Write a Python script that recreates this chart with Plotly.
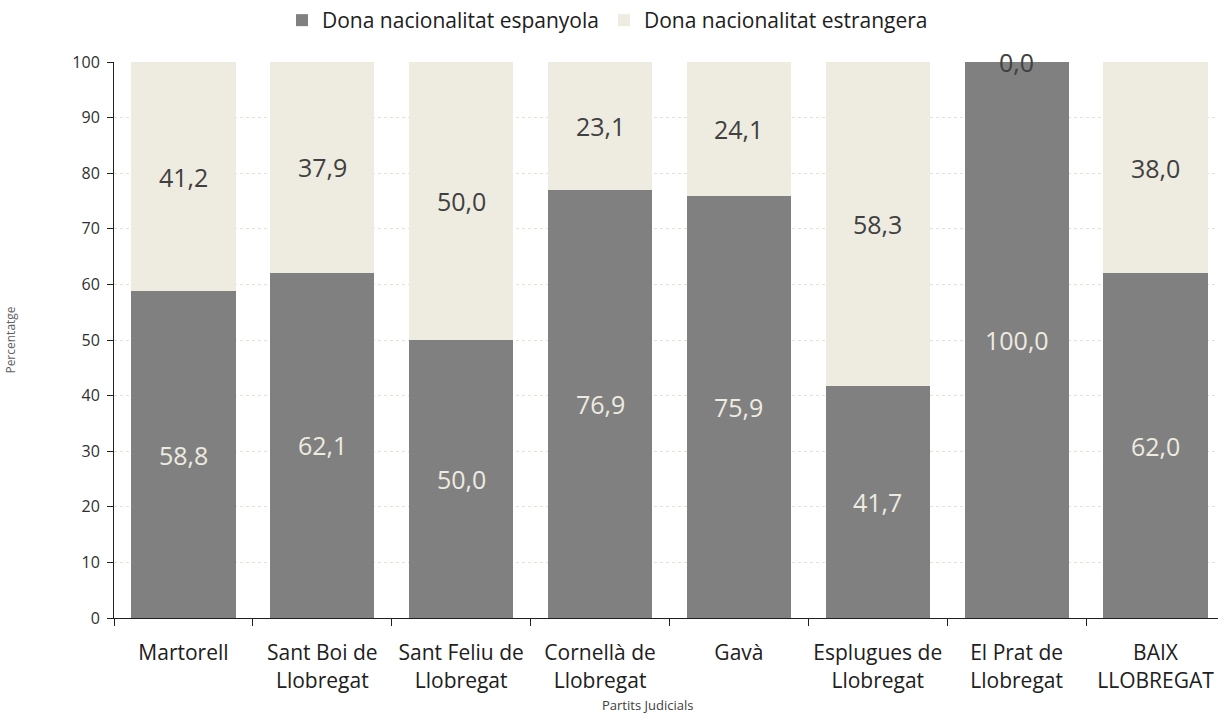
import plotly.graph_objects as go

partits = ["Martorell", "Sant Boi de<br>Llobregat", "Sant Feliu de<br>Llobregat", "Cornellà de<br>Llobregat",
           "Gavà", "Esplugues de<br>Llobregat", "El Prat de<br>Llobregat", "BAIX<br>LLOBREGAT"]
espanyola = [58.8, 62.1, 50.0, 76.9, 75.9, 41.7, 100.0, 62.0]
estrangera = [41.2, 37.9, 50.0, 23.1, 24.1, 58.3, 0.0, 38.0]

dark = "#808080"
light = "#EEEBE0"
font = "Open Sans"

fig = go.Figure()
fig.add_trace(go.Bar(x=partits, y=espanyola, name="Dona nacionalitat espanyola",
                     marker=dict(color=dark, line=dict(width=0))))
fig.add_trace(go.Bar(x=partits, y=estrangera, name="Dona nacionalitat estrangera",
                     marker=dict(color=light, line=dict(width=0))))

# etiquetes de dades al mig de cada segment
for p, a, b in zip(partits, espanyola, estrangera):
    if a > 0:
        fig.add_annotation(x=p, y=a / 2, text=f"{a:.1f}".replace(".", ","), showarrow=False,
                           font=dict(size=25, color=light, family=font))
    fig.add_annotation(x=p, y=a + b / 2, text=f"{b:.1f}".replace(".", ","), showarrow=False,
                       font=dict(size=25, color="#404040", family=font))

fig.add_annotation(x=0.483, xref="paper", y=-0.156, yref="paper", yanchor="middle",
                   text="Partits Judicials", showarrow=False,
                   font=dict(size=13, color="#404040", family=font))

fig.update_layout(
    barmode="stack", bargap=0.25,
    width=1218, height=715,
    margin=dict(l=114, r=0, t=62, b=97),
    plot_bgcolor="white", paper_bgcolor="white",
    font=dict(family=font, color="#404040"),
    legend=dict(orientation="h", x=0.447, xref="paper", xanchor="center", y=1.0755, yanchor="middle",
                font=dict(size=21, color="#202020"), traceorder="normal", itemwidth=30),
    showlegend=True,
)
fig.update_xaxes(range=[-0.5, 7.45], showline=True, linecolor="#202020", linewidth=1, automargin=False,
                 ticks="outside", tickson="boundaries", ticklen=7, tickcolor="#202020",
                 tickfont=dict(size=21, color="#202020"), ticklabelstandoff=16)
fig.update_yaxes(range=[0, 100], dtick=10, showline=True, linecolor="#202020", linewidth=1, automargin=False,
                 ticks="outside", ticklen=6, tickcolor="#202020",
                 tickfont=dict(size=16, color="#303030"), ticklabelstandoff=4,
                 showgrid=True, gridcolor="#E6E2D2", griddash="dot", gridwidth=1, zeroline=False,
                 title=dict(text="Percentatge", font=dict(size=12, color="#606060"), standoff=54))

fig.write_html("out.html", config={"displayModeBar": False},
               post_script="document.body.style.margin='0';")
